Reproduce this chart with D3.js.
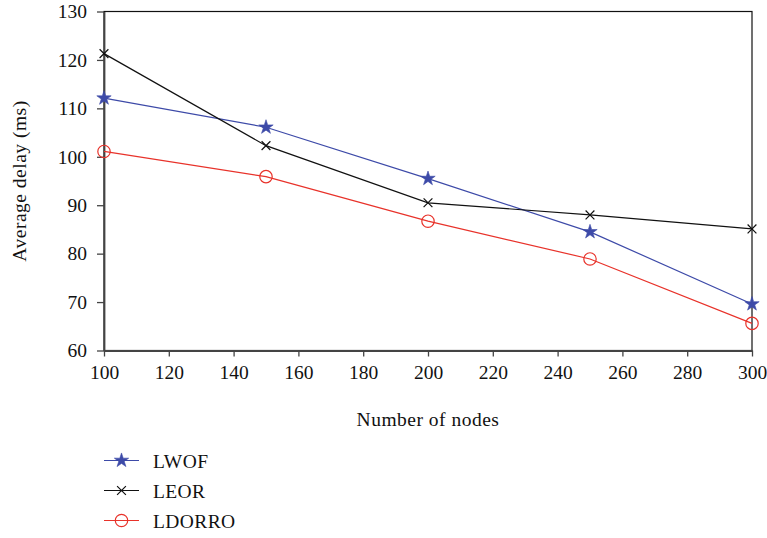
<!DOCTYPE html>
<html>
<head>
<meta charset="utf-8">
<title>Average delay</title>
<script src="https://cdn.jsdelivr.net/npm/d3@7"></script>
<style>
  body { margin: 0; background: #fff; }
  svg text { font-family: "Liberation Serif", "DejaVu Serif", serif; fill: #111; }
</style>
</head>
<body>
<div id="container"></div>
<script>
var nodes = [100, 150, 200, 250, 300];
var lwof = [112.1, 106.1, 95.5, 84.5, 69.6];
var leor = [121.3, 102.3, 90.5, 88.0, 85.1];
var ldorro = [101.1, 95.9, 86.7, 78.9, 65.6];
var xTicks = [100, 120, 140, 160, 180, 200, 220, 240, 260, 280, 300];
var yTicks = [60, 70, 80, 90, 100, 110, 120, 130];
var seriesNames = ["LWOF", "LEOR", "LDORRO"];

var W = 767, H = 538;
var margin = {top: 11.5, left: 104, right: 15, bottom: 187.5};
var width = 752 - margin.left, height = 350.5 - margin.top;
var fs = 19.5;

var svg = d3.select("#container").append("svg")
  .attr("width", W).attr("height", H);
var g = svg.append("g").attr("transform", "translate(" + margin.left + "," + margin.top + ")");

var x = d3.scaleLinear().domain([100, 300]).range([0, width]);
var y = d3.scaleLinear().domain([60, 130]).range([height, 0]);

// box
g.append("rect").attr("width", width).attr("height", height)
  .attr("fill", "none").attr("stroke", "#111").attr("stroke-width", 1.2);

var xa = g.append("g").attr("transform", "translate(0," + height + ")")
  .call(d3.axisBottom(x).tickValues(xTicks).tickSize(6).tickPadding(9).tickSizeOuter(0));
var ya = g.append("g")
  .call(d3.axisLeft(y).tickValues(yTicks).tickSize(7).tickPadding(10).tickSizeOuter(0));
[xa, ya].forEach(function(a) {
  a.attr("font-family", null).attr("font-size", null);
  a.selectAll("path").attr("stroke", "#444").attr("stroke-width", 1.8);
  a.selectAll("line").attr("stroke", "#444").attr("stroke-width", 1.3);
  a.selectAll("text").attr("font-size", fs).attr("fill", "#111");
});

svg.append("text").attr("transform", "translate(26,181) rotate(-90)")
  .attr("text-anchor", "middle").attr("font-size", fs)
  .attr("letter-spacing", 0.5).text("Average delay (ms)");
svg.append("text").attr("x", 428).attr("y", 426)
  .attr("text-anchor", "middle").attr("font-size", fs)
  .attr("letter-spacing", 0.5).text("Number of nodes");

var series = [
  {name: seriesNames[0], vals: lwof, color: "#3d4aa8", mark: "star"},
  {name: seriesNames[1], vals: leor, color: "#111111", mark: "x"},
  {name: seriesNames[2], vals: ldorro, color: "#e8322a", mark: "circle"}
];

var line = d3.line().x(function(d) { return x(d[0]); }).y(function(d) { return y(d[1]); });

function drawMark(sel, s) {
  if (s.mark === "star") {
    sel.append("path").attr("d", d3.symbol().type(d3.symbolStar).size(64)())
      .attr("fill", s.color).attr("stroke", s.color).attr("stroke-width", 0.6);
  } else if (s.mark === "x") {
    sel.append("path").attr("d", "M-4.4,-4.4L4.4,4.4M-4.4,4.4L4.4,-4.4")
      .attr("stroke", s.color).attr("stroke-width", 1.2).attr("fill", "none");
  } else {
    sel.append("circle").attr("r", 6.2)
      .attr("fill", "none").attr("stroke", s.color).attr("stroke-width", 1.2);
  }
}

series.forEach(function(s) {
  var pts = nodes.map(function(n, i) { return [n, s.vals[i]]; });
  g.append("path").datum(pts).attr("d", line)
    .attr("fill", "none").attr("stroke", s.color).attr("stroke-width", 1.2);
  pts.forEach(function(p) {
    var m = g.append("g").attr("transform", "translate(" + x(p[0]) + "," + y(p[1]) + ")");
    drawMark(m, s);
  });
});

// legend
var leg = svg.append("g");
series.forEach(function(s, i) {
  var ly = 460.5 + i * 30;
  leg.append("line").attr("x1", 104).attr("x2", 139).attr("y1", ly).attr("y2", ly)
    .attr("stroke", s.color).attr("stroke-width", 1.2);
  var m = leg.append("g").attr("transform", "translate(121.5," + ly + ")");
  drawMark(m, s);
  leg.append("text").attr("x", 153).attr("y", ly + 7)
    .attr("font-size", fs).attr("letter-spacing", 0.4).text(s.name);
});
</script>
</body>
</html>
